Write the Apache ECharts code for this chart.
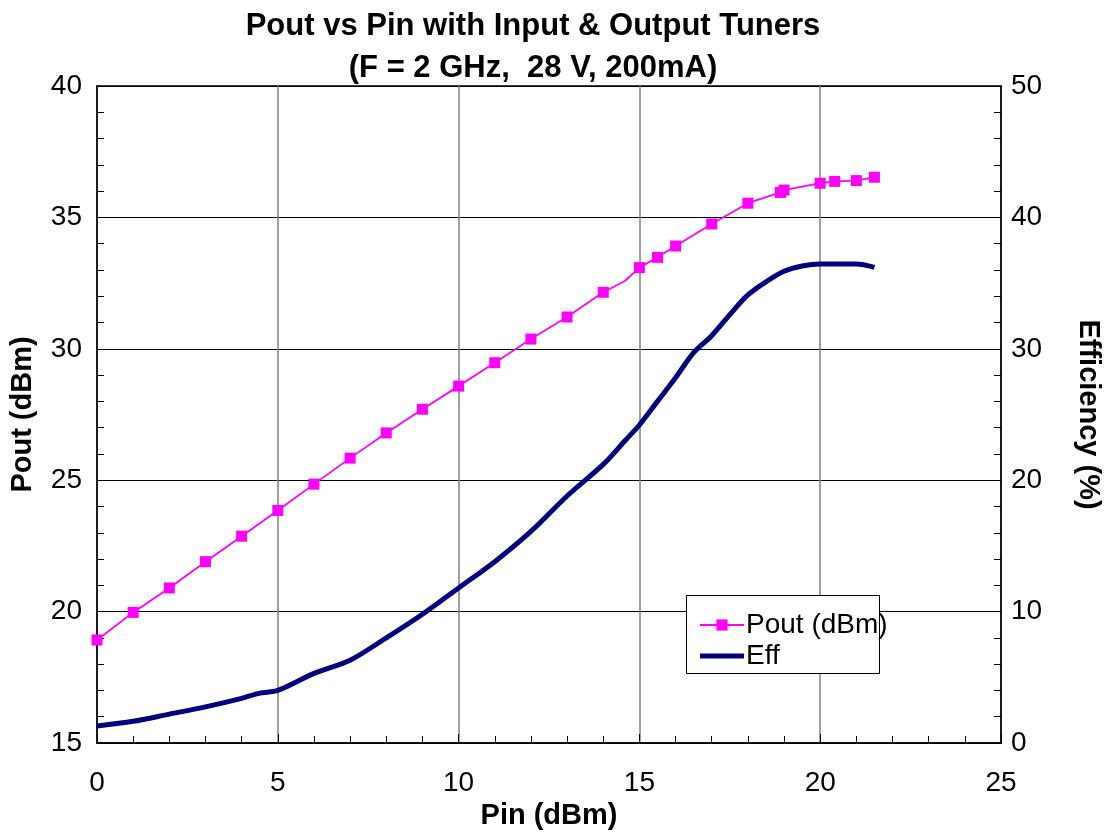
<!DOCTYPE html>
<html>
<head>
<meta charset="utf-8">
<script src="https://cdn.jsdelivr.net/npm/echarts@6/dist/echarts.min.js"></script>
<style>
  html, body { margin: 0; padding: 0; background: #ffffff; }
  #main { width: 1107px; height: 832px; }
</style>
</head>
<body>
<div id="main"></div>
<script>
// Pout vs Pin
var pinPout = [0, 1, 2, 3, 4, 5, 6, 7, 8, 9, 10, 11, 12, 13, 14, 14.6, 15, 15.5, 16, 17, 18, 18.9, 19, 20, 20.4, 21, 21.5];
var pout = [18.92, 19.97, 20.9, 21.9, 22.87, 23.85, 24.85, 25.84, 26.8, 27.7, 28.58, 29.47, 30.37, 31.21, 32.15, 32.58, 33.09, 33.48, 33.91, 34.75, 35.54, 35.95, 36.04, 36.3, 36.37, 36.4, 36.53];
// points drawn without a marker (just a bend in the line)
var noMarkerPin = [14.6];

// efficiency (%) vs Pin
var pinEff = [0, 1, 2, 3, 4, 4.5, 5, 6, 7, 8, 9, 10, 11, 12, 13, 14, 14.6, 15, 15.5, 16, 16.5, 17, 17.5, 18, 18.5, 19, 19.5, 20, 21, 21.5];
var eff = [1.3, 1.65, 2.2, 2.75, 3.4, 3.8, 4.0, 5.3, 6.3, 8.0, 9.8, 11.8, 13.8, 16.1, 18.8, 21.2, 23.0, 24.2, 26.0, 27.8, 29.7, 31.0, 32.6, 34.1, 35.1, 35.9, 36.3, 36.45, 36.45, 36.2];

var xTicks = [0, 5, 10, 15, 20, 25];
var poutTicks = [15, 20, 25, 30, 35, 40];
var effTicks = [0, 10, 20, 30, 40, 50];

var chart = echarts.init(document.getElementById('main'), null, { renderer: 'canvas' });

var poutData = pinPout.map(function (x, i) {
  var item = { value: [x, pout[i]] };
  if (noMarkerPin.indexOf(x) >= 0) item.symbol = 'none';
  return item;
});
var effData = pinEff.map(function (x, i) { return [x, eff[i]]; });

var font = 'Liberation Sans, Arial, sans-serif';

var option = {
  backgroundColor: '#ffffff',
  animation: false,
  title: {
    text: 'Pout vs Pin with Input & Output Tuners\n(F = 2 GHz,  28 V, 200mA)',
    left: 528,
    top: 0,
    textAlign: 'center',
    textStyle: {
      fontFamily: font,
      fontWeight: 'bold',
      fontSize: 31,
      lineHeight: 42,
      color: '#000000'
    }
  },
  legend: {
    left: 694,
    top: 606,
    orient: 'vertical',
    itemGap: 3,
    itemWidth: 44,
    itemHeight: 14,
    textStyle: { fontFamily: font, fontSize: 28, color: '#000000', padding: [0, 0, 0, -3] },
    data: [
      { name: 'Pout (dBm)' },
      { name: 'Eff', icon: 'path://M0,0L44,0L44,5L0,5Z' }
    ]
  },
  graphic: [{
    type: 'rect',
    left: 686,
    top: 595,
    z: 4,
    shape: { width: 193, height: 78 },
    style: { fill: '#ffffff', stroke: '#000000', lineWidth: 1 }
  }],
  grid: {
    left: 97,
    right: 106,
    top: 86,
    bottom: 89,
    outerBoundsMode: 'none',
    show: true,
    borderColor: '#000000',
    borderWidth: 1.5,
    backgroundColor: '#ffffff'
  },
  xAxis: {
    type: 'value',
    min: xTicks[0],
    max: xTicks[xTicks.length - 1],
    interval: 5,
    name: 'Pin (dBm)',
    nameLocation: 'middle',
    nameGap: 57,
    nameTextStyle: { fontFamily: font, fontWeight: 'bold', fontSize: 29, color: '#000000' },
    axisLine: { show: true, onZero: false, lineStyle: { color: '#000000', width: 1.5 } },
    axisTick: { show: true, inside: true, length: 9, lineStyle: { color: '#000000' } },
    minorTick: { show: true, splitNumber: 5, length: 7, lineStyle: { color: '#000000' } },
    axisLabel: { fontFamily: font, fontSize: 28, color: '#000000', margin: 26 },
    splitLine: { show: true, lineStyle: { color: '#808080', width: 1.5 } }
  },
  yAxis: [{
    type: 'value',
    position: 'left',
    min: poutTicks[0],
    max: poutTicks[poutTicks.length - 1],
    interval: 5,
    name: 'Pout (dBm)',
    nameLocation: 'middle',
    nameGap: 60,
    nameRotate: 90,
    nameTextStyle: { fontFamily: font, fontWeight: 'bold', fontSize: 29, color: '#000000' },
    axisLine: { show: true, lineStyle: { color: '#000000', width: 1.5 } },
    axisTick: { show: true, inside: true, length: 9, lineStyle: { color: '#000000' } },
    minorTick: { show: true, splitNumber: 5, length: 7, lineStyle: { color: '#000000' } },
    axisLabel: { fontFamily: font, fontSize: 28, color: '#000000', margin: 15 },
    splitLine: { show: true, lineStyle: { color: '#000000', width: 1.2 } }
  }, {
    type: 'value',
    position: 'right',
    min: effTicks[0],
    max: effTicks[effTicks.length - 1],
    interval: 10,
    name: 'Efficiency (%)',
    nameLocation: 'middle',
    nameGap: 72,
    nameRotate: -90,
    nameTextStyle: { fontFamily: font, fontWeight: 'bold', fontSize: 29, color: '#000000' },
    axisLine: { show: true, lineStyle: { color: '#000000', width: 1.5 } },
    axisTick: { show: true, inside: true, length: 9, lineStyle: { color: '#000000' } },
    minorTick: { show: true, splitNumber: 5, length: 7, lineStyle: { color: '#000000' } },
    axisLabel: { fontFamily: font, fontSize: 28, color: '#000000', margin: 10 },
    splitLine: { show: false }
  }],
  series: [{
    name: 'Pout (dBm)',
    type: 'line',
    yAxisIndex: 0,
    z: 3,
    data: poutData,
    symbol: 'rect',
    symbolSize: 11,
    showAllSymbol: true,
    itemStyle: { color: '#FF00FF' },
    lineStyle: { color: '#FF00FF', width: 1.8 }
  }, {
    name: 'Eff',
    type: 'line',
    yAxisIndex: 1,
    z: 3,
    data: effData,
    symbol: 'none',
    smooth: 0.3,
    itemStyle: { color: '#000080' },
    lineStyle: { color: '#000080', width: 5 }
  }]
};

chart.setOption(option);
</script>
</body>
</html>
